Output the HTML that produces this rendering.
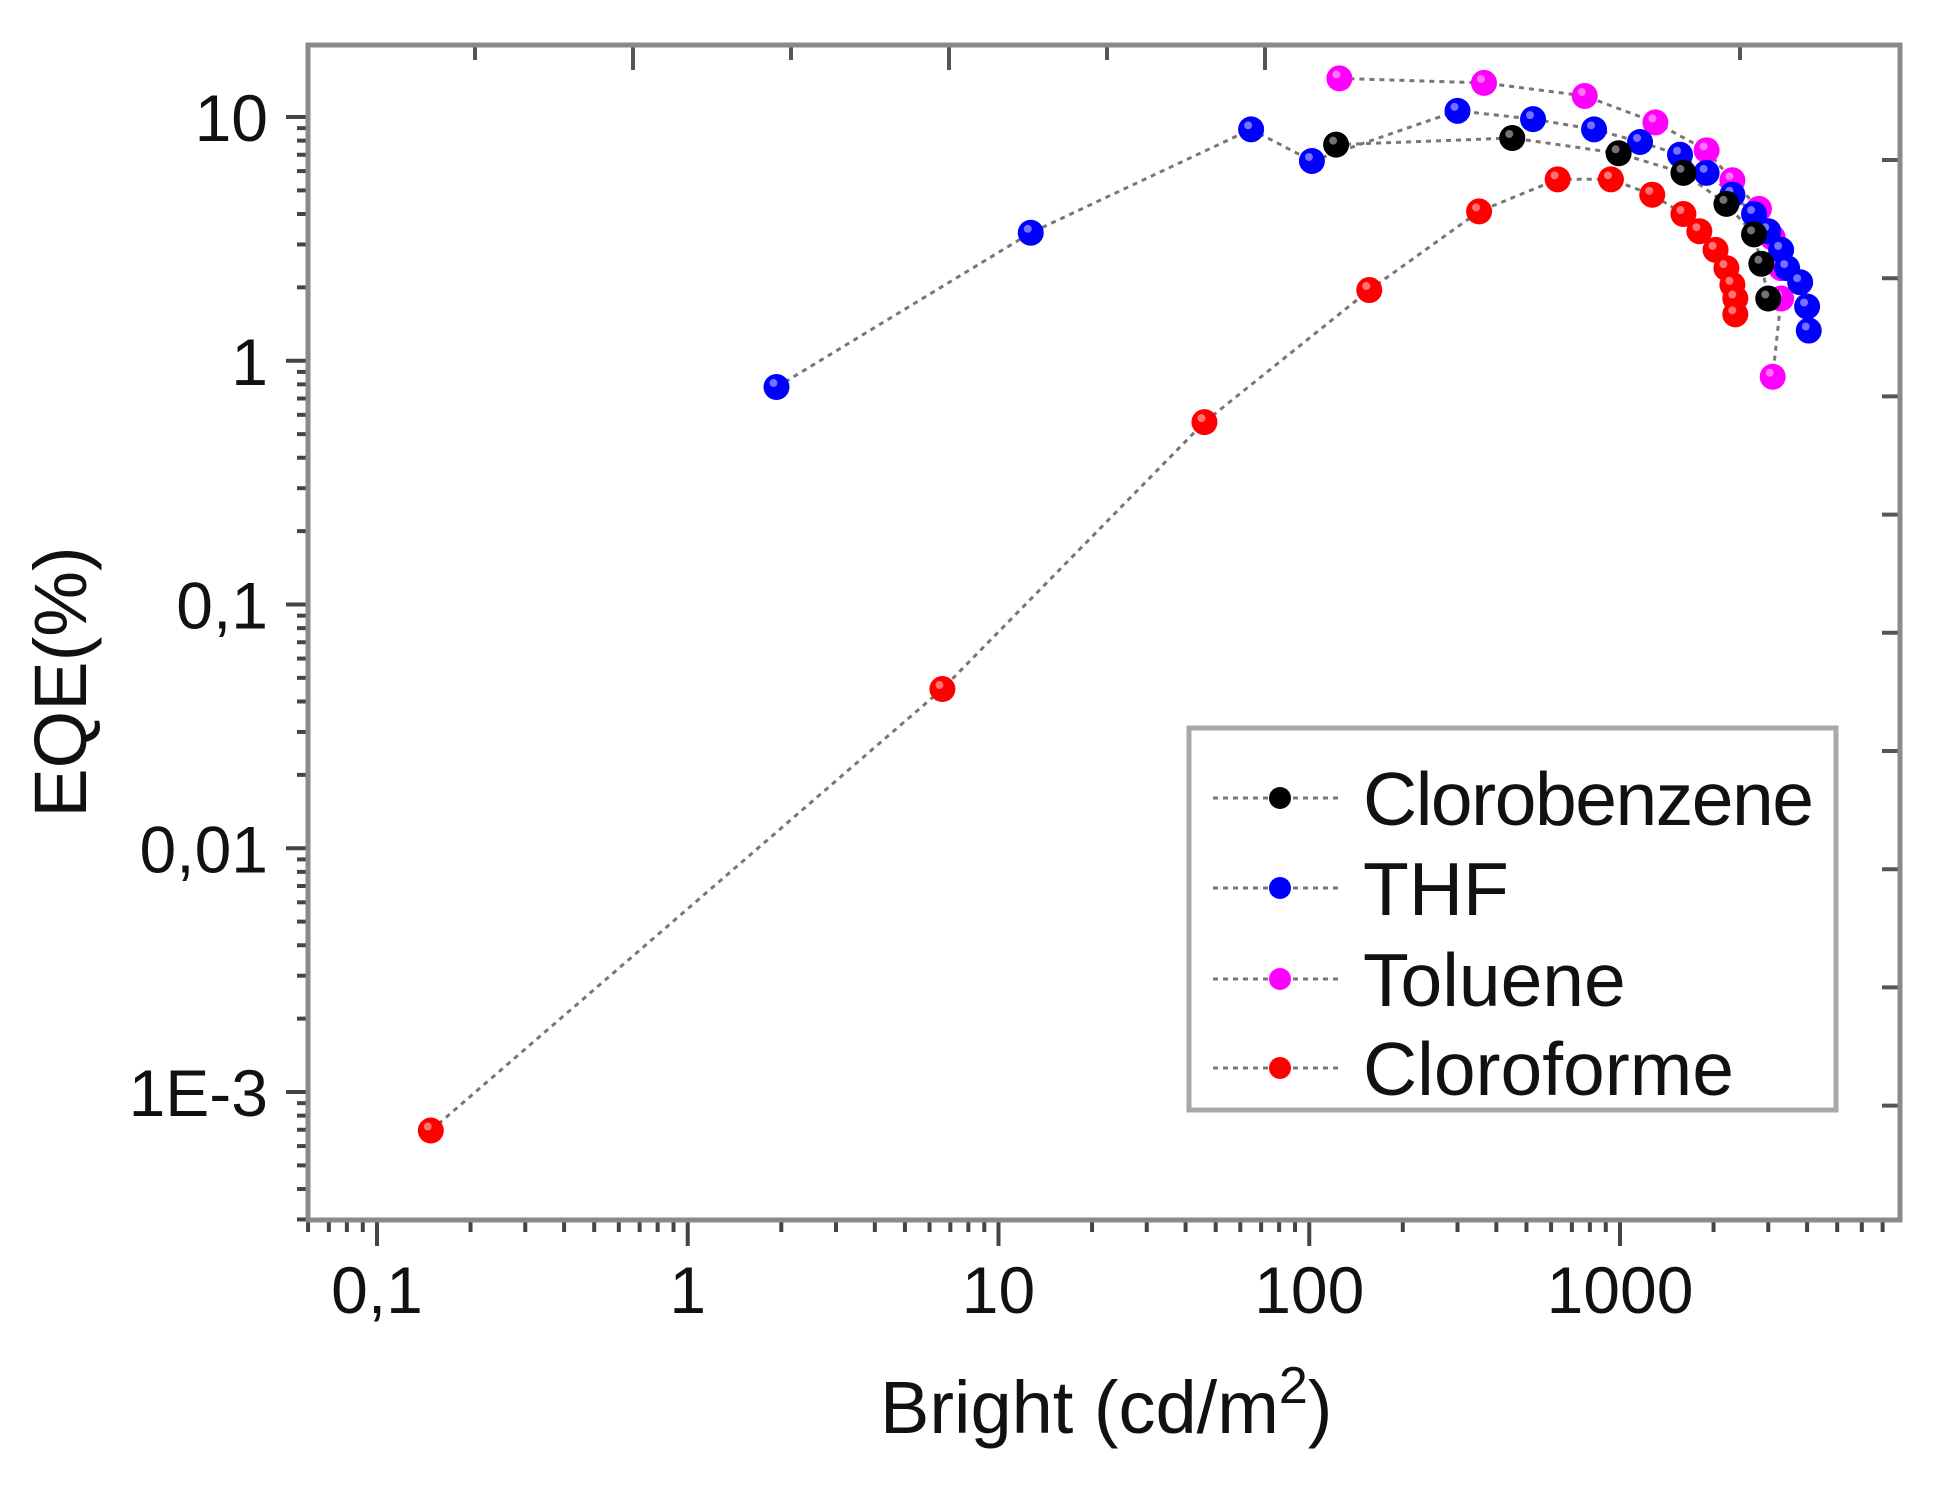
<!DOCTYPE html>
<html><head><meta charset="utf-8"><style>
html,body{margin:0;padding:0;background:#fff;}
svg{display:block;font-family:"Liberation Sans",Arial,sans-serif;}
</style></head><body>
<svg id="chart" width="1955" height="1493" viewBox="0 0 1955 1493" xmlns="http://www.w3.org/2000/svg">
<rect x="0" y="0" width="1955" height="1493" fill="#fff"/>
<g id="marks"></g>
<g id="axes"></g>
<rect x="308" y="45" width="1592" height="1175" fill="none" stroke="#8a8a8a" stroke-width="5"/>
<g id="legend">
<rect x="1189" y="728" width="647" height="382" fill="#fff" stroke="#a8a8a8" stroke-width="5"/>
</g>
<text x="880" y="1433" font-size="74" fill="#111">Bright (cd/m<tspan dy="-30" font-size="52">2</tspan><tspan dy="30">)</tspan></text>
<text transform="translate(86,682) rotate(-90)" text-anchor="middle" font-size="74" fill="#111">EQE(%)</text>
</svg>
<script>
const xTickVals = [0.1, 1, 10, 100, 1000];
const xTickLabels = ["0,1", "1", "10", "100", "1000"];
const yTickVals = [10, 1, 0.1, 0.01, 0.001];
const yTickLabels = ["10", "1", "0,1", "0,01", "1E-3"];
const seriesNames = ["Clorobenzene", "THF", "Toluene", "Cloroforme"];
const seriesColors = ["#000000", "#0000ff", "#ff00ff", "#ff0000"];
const cbX = [122, 450, 990, 1600, 2200, 2700, 2850, 3000];
const cbY = [7.7, 8.2, 7.1, 5.9, 4.4, 3.3, 2.5, 1.8];
const thfX = [1.93, 12.7, 65, 102, 300, 525, 825, 1160, 1560, 1900, 2300, 2700, 3000, 3300, 3450, 3800, 4000, 4050];
const thfY = [0.78, 3.35, 8.9, 6.6, 10.6, 9.8, 8.9, 7.9, 7.0, 5.9, 4.8, 4.0, 3.4, 2.85, 2.4, 2.1, 1.67, 1.33];
const tolX = [125, 365, 770, 1300, 1900, 2300, 2800, 3100, 3300, 3300, 3100];
const tolY = [14.4, 13.8, 12.2, 9.5, 7.3, 5.5, 4.2, 3.2, 2.4, 1.8, 0.86];
const clfX = [0.149, 6.6, 46, 156, 352, 630, 935, 1270, 1600, 1800, 2030, 2200, 2300, 2350, 2350];
const clfY = [0.000695, 0.045, 0.56, 1.95, 4.1, 5.55, 5.55, 4.8, 4.0, 3.4, 2.85, 2.4, 2.05, 1.8, 1.55];

const NS = "http://www.w3.org/2000/svg";
const X0 = 377, XD = 310.75, Y0 = 117, YD = 243.75;
function xs(v){ return X0 + (Math.log10(v) + 1) * XD; }
function ys(v){ return Y0 + (1 - Math.log10(v)) * YD; }
function mk(tag, attrs, parent){
  const e = document.createElementNS(NS, tag);
  for (const k in attrs) e.setAttribute(k, attrs[k]);
  parent.appendChild(e); return e;
}
const axes = document.getElementById('axes');
const marks = document.getElementById('marks');
const legend = document.getElementById('legend');

for (let d = -2; d <= 4; d++) {
  for (let m = 1; m <= 9; m++) {
    const v = m * Math.pow(10, d);
    const x = xs(v);
    if (x < 308 || x > 1900) continue;
    const major = m === 1;
    const t = mk('line', {x1:x, x2:x, y1:1220, y2: major ? 1246 : 1232, stroke:'#444', 'stroke-width':4}, axes);
    
    
  }
}
xTickVals.forEach((v, i) => {
  const t = mk('text', {x: xs(v), y: 1313, 'text-anchor':'middle', 'font-size':66, fill:'#111'}, axes);
  t.textContent = xTickLabels[i];
  
  
});
for (let d = -4; d <= 1; d++) {
  for (let m = 1; m <= 9; m++) {
    const v = m * Math.pow(10, d);
    const y = ys(v);
    if (y < 45 || y > 1220) continue;
    const major = m === 1;
    const t = mk('line', {x1: major ? 286 : 297, x2:308, y1:y, y2:y, stroke:'#444', 'stroke-width':4}, axes);
    
    
  }
}
yTickVals.forEach((v, i) => {
  const t = mk('text', {x: 268, y: ys(v) + 24, 'text-anchor':'end', 'font-size':66, fill:'#111'}, axes);
  t.textContent = yTickLabels[i];
  
  
});
for (let i = 0; i < 6; i++) {
  const x = 1265 - i * 158;
  if (x < 320) continue;
  const t = mk('line', {x1:x, x2:x, y1:45, y2: i % 2 === 0 ? 70 : 60, stroke:'#555', 'stroke-width':4}, axes);
  
  
}
const t2 = mk('line', {x1:1740, x2:1740, y1:45, y2:60, stroke:'#555', 'stroke-width':4}, axes);


for (let i = 0; i < 9; i++) {
  const y = 160 + i * 118.2;
  const t = mk('line', {x1:1882, x2:1900, y1:y, y2:y, stroke:'#555', 'stroke-width':4}, axes);
  
  
}

const allX = [cbX, thfX, tolX, clfX];
const allY = [cbY, thfY, tolY, clfY];
const lineOrder = [2, 1, 0, 3];
lineOrder.forEach(s => {
  const pts = allX[s].map((v, i) => xs(v).toFixed(1) + ',' + ys(allY[s][i]).toFixed(1)).join(' ');
  const pl = mk('polyline', {points: pts, fill:'none', stroke:'#777', 'stroke-width':3, 'stroke-dasharray':'5 5'}, marks);
  
  
});
lineOrder.forEach(s => {
  allX[s].forEach((v, i) => {
    const cx = xs(v), cy = ys(allY[s][i]);
    const c = mk('circle', {cx: cx, cy: cy, r: 13, fill: seriesColors[s]}, marks);
    
    
    mk('circle', {cx: cx - 3, cy: cy - 4, r: 4, fill: '#fff', opacity: 0.45}, marks);
  });
});

const legY = [798, 888, 979, 1068];
seriesNames.forEach((n, i) => {
  const g = mk('g', {}, legend);
  
  
  mk('line', {x1:1213, x2:1343, y1:legY[i], y2:legY[i], stroke:'#777', 'stroke-width':3, 'stroke-dasharray':'5 5'}, g);
  mk('circle', {cx:1280, cy:legY[i], r:11, fill:seriesColors[i]}, g);
  const t = mk('text', {x:1363, y:legY[i] + 27, 'font-size':75, fill:'#111'}, g);
  if (n === 'Clorobenzene') t.setAttribute('textLength', 451);
  t.textContent = n;
});
</script>
</body></html>
